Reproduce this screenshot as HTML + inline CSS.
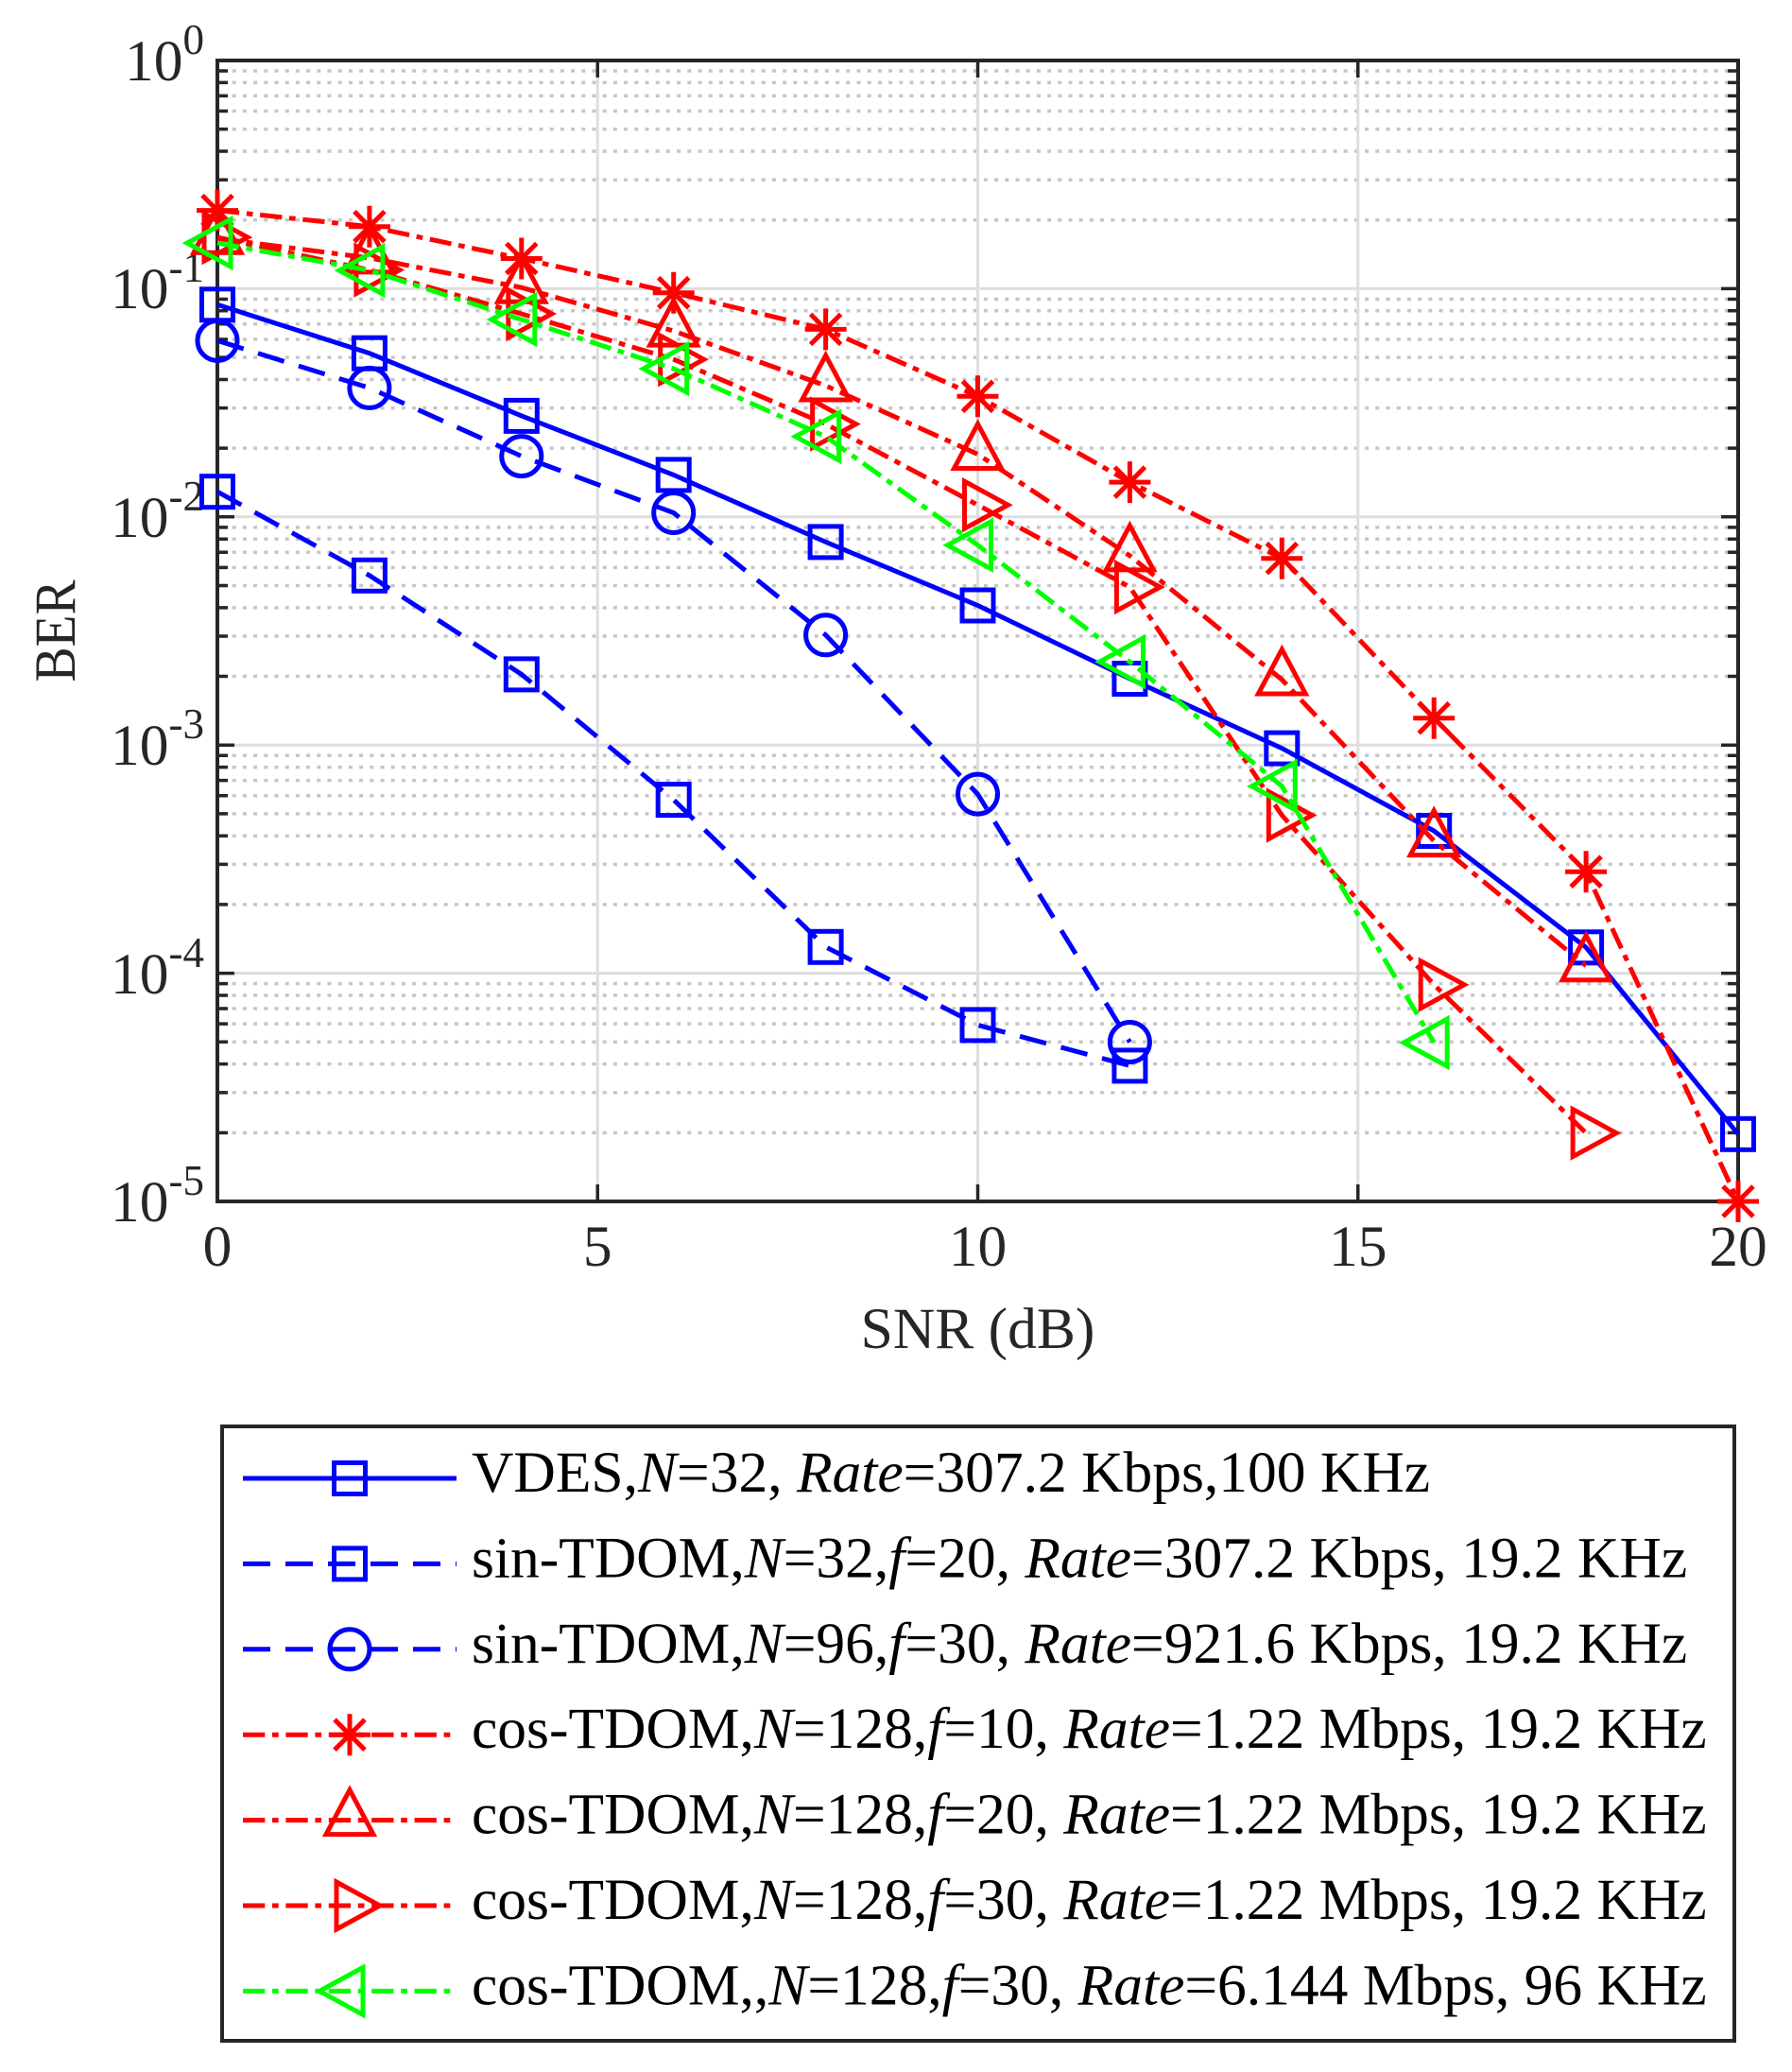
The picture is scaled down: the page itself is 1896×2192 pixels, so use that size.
<!DOCTYPE html>
<html><head><meta charset="utf-8"><style>
html,body{margin:0;padding:0;background:#fff;}
svg{display:block;}
text{font-family:"Liberation Serif",serif;}
</style></head><body>
<svg xmlns="http://www.w3.org/2000/svg" width="1896" height="2192" viewBox="0 0 1896 2192">
<rect x="0" y="0" width="1896" height="2192" fill="#fff"/>
<!-- minor grid -->
<path fill="none" stroke="#c6c6c6" stroke-width="3.5" stroke-dasharray="4 7.2" stroke-dashoffset="6.7" d="
M230 232.73H1839M230 190.22H1839M230 160.06H1839M230 136.67H1839M230 117.55H1839M230 101.39H1839M230 87.39H1839M230 75.05H1839
M230 474.13H1839M230 431.62H1839M230 401.46H1839M230 378.07H1839M230 358.95H1839M230 342.79H1839M230 328.79H1839M230 316.45H1839
M230 715.53H1839M230 673.02H1839M230 642.86H1839M230 619.47H1839M230 600.35H1839M230 584.19H1839M230 570.19H1839M230 557.85H1839
M230 956.93H1839M230 914.42H1839M230 884.26H1839M230 860.87H1839M230 841.75H1839M230 825.59H1839M230 811.59H1839M230 799.25H1839
M230 1198.33H1839M230 1155.82H1839M230 1125.66H1839M230 1102.27H1839M230 1083.15H1839M230 1066.99H1839M230 1052.99H1839M230 1040.65H1839"/>
<!-- major grid -->
<path fill="none" stroke="#dedede" stroke-width="3" d="M230 305.4H1839M230 546.8H1839M230 788.2H1839M230 1029.6H1839M632.25 64V1271M1034.5 64V1271M1436.75 64V1271"/>
<!-- axes box -->
<rect x="230" y="64" width="1609" height="1207" fill="none" stroke="#262626" stroke-width="4"/>
<!-- major ticks -->
<path fill="none" stroke="#262626" stroke-width="3.5" d="
M230 305.4h18M230 546.8h18M230 788.2h18M230 1029.6h18
M1839 305.4h-18M1839 546.8h-18M1839 788.2h-18M1839 1029.6h-18
M632.25 1271v-18M1034.5 1271v-18M1436.75 1271v-18
M632.25 64v18M1034.5 64v18M1436.75 64v18"/>
<!-- minor ticks -->
<path fill="none" stroke="#262626" stroke-width="3.5" d="
M230 232.73h11M230 190.22h11M230 160.06h11M230 136.67h11M230 117.55h11M230 101.39h11M230 87.39h11M230 75.05h11
M230 474.13h11M230 431.62h11M230 401.46h11M230 378.07h11M230 358.95h11M230 342.79h11M230 328.79h11M230 316.45h11
M230 715.53h11M230 673.02h11M230 642.86h11M230 619.47h11M230 600.35h11M230 584.19h11M230 570.19h11M230 557.85h11
M230 956.93h11M230 914.42h11M230 884.26h11M230 860.87h11M230 841.75h11M230 825.59h11M230 811.59h11M230 799.25h11
M230 1198.33h11M230 1155.82h11M230 1125.66h11M230 1102.27h11M230 1083.15h11M230 1066.99h11M230 1052.99h11M230 1040.65h11
M1839 232.73h-11M1839 190.22h-11M1839 160.06h-11M1839 136.67h-11M1839 117.55h-11M1839 101.39h-11M1839 87.39h-11M1839 75.05h-11
M1839 474.13h-11M1839 431.62h-11M1839 401.46h-11M1839 378.07h-11M1839 358.95h-11M1839 342.79h-11M1839 328.79h-11M1839 316.45h-11
M1839 715.53h-11M1839 673.02h-11M1839 642.86h-11M1839 619.47h-11M1839 600.35h-11M1839 584.19h-11M1839 570.19h-11M1839 557.85h-11
M1839 956.93h-11M1839 914.42h-11M1839 884.26h-11M1839 860.87h-11M1839 841.75h-11M1839 825.59h-11M1839 811.59h-11M1839 799.25h-11
M1839 1198.33h-11M1839 1155.82h-11M1839 1125.66h-11M1839 1102.27h-11M1839 1083.15h-11M1839 1066.99h-11M1839 1052.99h-11M1839 1040.65h-11"/>

<!-- tick labels -->
<g fill="#262626" font-size="61.5" text-anchor="middle">
<text x="230" y="1339">0</text>
<text x="632.25" y="1339">5</text>
<text x="1034.5" y="1339">10</text>
<text x="1436.75" y="1339">15</text>
<text x="1839" y="1339">20</text>
</g>
<g fill="#262626" font-size="61.5" text-anchor="end">
<text x="216" y="85">10<tspan font-size="45" dy="-28">0</tspan></text>
<text x="216" y="326">10<tspan font-size="45" dy="-28">-1</tspan></text>
<text x="216" y="568">10<tspan font-size="45" dy="-28">-2</tspan></text>
<text x="216" y="809">10<tspan font-size="45" dy="-28">-3</tspan></text>
<text x="216" y="1051">10<tspan font-size="45" dy="-28">-4</tspan></text>
<text x="216" y="1292">10<tspan font-size="45" dy="-28">-5</tspan></text>
</g>
<text x="1034.5" y="1426" font-size="61.5" fill="#262626" text-anchor="middle">SNR (dB)</text>
<text transform="translate(79,667.5) rotate(-90)" x="0" y="0" font-size="61.5" fill="#262626" text-anchor="middle" textLength="108" lengthAdjust="spacingAndGlyphs">BER</text>

<!-- VDES -->
<polyline fill="none" stroke="#0000ff" stroke-width="5" points="230,322.3 390.9,373.7 551.8,439.9 712.7,502.4 873.6,573.4 1034.5,640.5 1195.4,718 1356.3,791.6 1517.2,879 1678.1,1002.3 1839,1199.8"/>
<g fill="none" stroke="#0000ff" stroke-width="5">
<rect x="213.5" y="305.8" width="33" height="33"/><rect x="374.4" y="357.2" width="33" height="33"/><rect x="535.3" y="423.4" width="33" height="33"/><rect x="696.2" y="485.9" width="33" height="33"/><rect x="857.1" y="556.9" width="33" height="33"/><rect x="1018" y="624" width="33" height="33"/><rect x="1178.9" y="701.5" width="33" height="33"/><rect x="1339.8" y="775.1" width="33" height="33"/><rect x="1500.7" y="862.5" width="33" height="33"/><rect x="1661.6" y="985.8" width="33" height="33"/><rect x="1822.5" y="1183.3" width="33" height="33"/>
</g>
<!-- sin32 -->
<polyline fill="none" stroke="#0000ff" stroke-width="5" stroke-dasharray="29 16" points="230,520.2 390.9,608.8 551.8,713.4 712.7,846.1 873.6,1001.8 1034.5,1084.4 1195.4,1127.4"/>
<g fill="none" stroke="#0000ff" stroke-width="5">
<rect x="213.5" y="503.7" width="33" height="33"/><rect x="374.4" y="592.3" width="33" height="33"/><rect x="535.3" y="696.9" width="33" height="33"/><rect x="696.2" y="829.6" width="33" height="33"/><rect x="857.1" y="985.3" width="33" height="33"/><rect x="1018" y="1067.9" width="33" height="33"/><rect x="1178.9" y="1110.9" width="33" height="33"/>
</g>
<!-- sin96 -->
<polyline fill="none" stroke="#0000ff" stroke-width="5" stroke-dasharray="29 16" points="230,360.4 390.9,410.4 551.8,482.6 712.7,542.5 873.6,671.8 1034.5,840.1 1195.4,1102.5"/>
<g fill="none" stroke="#0000ff" stroke-width="5">
<circle cx="230" cy="360.4" r="21"/><circle cx="390.9" cy="410.4" r="21"/><circle cx="551.8" cy="482.6" r="21"/><circle cx="712.7" cy="542.5" r="21"/><circle cx="873.6" cy="671.8" r="21"/><circle cx="1034.5" cy="840.1" r="21"/><circle cx="1195.4" cy="1102.5" r="21"/>
</g>
<!-- cos f=10 star -->
<polyline fill="none" stroke="#ff0000" stroke-width="5" stroke-dasharray="23.3 7.7 6.7 7.7" points="230,222.6 390.9,239.7 551.8,273.5 712.7,309.7 873.6,348.4 1034.5,419.3 1195.4,510.1 1356.3,590.7 1517.2,759.7 1678.1,922.2 1839,1271"/>
<path fill="none" stroke="#ff0000" stroke-width="5" d="M208,222.6h44M230,200.6v44M214,206.6l32,32M214,238.6l32,-32
M368.9,239.7h44M390.9,217.7v44M374.9,223.7l32,32M374.9,255.7l32,-32
M529.8,273.5h44M551.8,251.5v44M535.8,257.5l32,32M535.8,289.5l32,-32
M690.7,309.7h44M712.7,287.7v44M696.7,293.7l32,32M696.7,325.7l32,-32
M851.6,348.4h44M873.6,326.4v44M857.6,332.4l32,32M857.6,364.4l32,-32
M1012.5,419.3h44M1034.5,397.3v44M1018.5,403.3l32,32M1018.5,435.3l32,-32
M1173.4,510.1h44M1195.4,488.1v44M1179.4,494.1l32,32M1179.4,526.1l32,-32
M1334.3,590.7h44M1356.3,568.7v44M1340.3,574.7l32,32M1340.3,606.7l32,-32
M1495.2,759.7h44M1517.2,737.7v44M1501.2,743.7l32,32M1501.2,775.7l32,-32
M1656.1,922.2h44M1678.1,900.2v44M1662.1,906.2l32,32M1662.1,938.2l32,-32
M1817,1271h44M1839,1249v44M1823,1255l32,32M1823,1287l32,-32"/>
<!-- cos f=20 tri up -->
<polyline fill="none" stroke="#ff0000" stroke-width="5" stroke-dasharray="23.3 7.7 6.7 7.7" points="230,252.3 390.9,272.9 551.8,304.2 712.7,350.1 873.6,408 1034.5,480.5 1195.4,587.9 1356.3,719 1517.2,889.6 1678.1,1021.7"/>
<g fill="none" stroke="#ff0000" stroke-width="5">
<polygon points="230,220.3 205,267.3 255,267.3"/><polygon points="390.9,240.9 365.9,287.9 415.9,287.9"/><polygon points="551.8,272.2 526.8,319.2 576.8,319.2"/><polygon points="712.7,318.1 687.7,365.1 737.7,365.1"/><polygon points="873.6,376 848.6,423 898.6,423"/><polygon points="1034.5,448.5 1009.5,495.5 1059.5,495.5"/><polygon points="1195.4,555.9 1170.4,602.9 1220.4,602.9"/><polygon points="1356.3,687 1331.3,734 1381.3,734"/><polygon points="1517.2,857.6 1492.2,904.6 1542.2,904.6"/><polygon points="1678.1,989.7 1653.1,1036.7 1703.1,1036.7"/>
</g>
<!-- cos f=30 tri right -->
<polyline fill="none" stroke="#ff0000" stroke-width="5" stroke-dasharray="23.3 7.7 6.7 7.7" points="230,251.1 390.9,285.6 551.8,332 712.7,380.2 873.6,448.6 1034.5,534.2 1195.4,621.1 1356.3,862.5 1517.2,1041.7 1678.1,1198.6"/>
<g fill="none" stroke="#ff0000" stroke-width="5">
<polygon points="216,226.1 262,251.1 216,276.1"/><polygon points="376.9,260.6 422.9,285.6 376.9,310.6"/><polygon points="537.8,307 583.8,332 537.8,357"/><polygon points="698.7,355.2 744.7,380.2 698.7,405.2"/><polygon points="859.6,423.6 905.6,448.6 859.6,473.6"/><polygon points="1020.5,509.2 1066.5,534.2 1020.5,559.2"/><polygon points="1181.4,596.1 1227.4,621.1 1181.4,646.1"/><polygon points="1342.3,837.5 1388.3,862.5 1342.3,887.5"/><polygon points="1503.2,1016.7 1549.2,1041.7 1503.2,1066.7"/><polygon points="1664.1,1173.6 1710.1,1198.6 1664.1,1223.6"/>
</g>
<!-- green tri left -->
<polyline fill="none" stroke="#00ff00" stroke-width="5" stroke-dasharray="23.3 7.7 6.7 7.7" points="230,257.1 390.9,286.1 551.8,338 712.7,390.1 873.6,461.8 1034.5,576.7 1195.4,700.1 1356.3,831.7 1517.2,1103"/>
<g fill="none" stroke="#00ff00" stroke-width="5">
<polygon points="244,232.1 198,257.1 244,282.1"/><polygon points="404.9,261.1 358.9,286.1 404.9,311.1"/><polygon points="565.8,313 519.8,338 565.8,363"/><polygon points="726.7,365.1 680.7,390.1 726.7,415.1"/><polygon points="887.6,436.8 841.6,461.8 887.6,486.8"/><polygon points="1048.5,551.7 1002.5,576.7 1048.5,601.7"/><polygon points="1209.4,675.1 1163.4,700.1 1209.4,725.1"/><polygon points="1370.3,806.7 1324.3,831.7 1370.3,856.7"/><polygon points="1531.2,1078 1485.2,1103 1531.2,1128"/>
</g>

<!-- legend -->
<rect x="235" y="1509" width="1600" height="650" fill="#fff" stroke="#262626" stroke-width="4"/>
<g fill="none" stroke-width="5">
<path stroke="#0000ff" d="M257 1564H483"/>
<rect stroke="#0000ff" x="353.5" y="1547.5" width="33" height="33"/>
<path stroke="#0000ff" stroke-dasharray="29 16" d="M257 1654.4H483"/>
<rect stroke="#0000ff" x="353.5" y="1637.9" width="33" height="33"/>
<path stroke="#0000ff" stroke-dasharray="29 16" d="M257 1744.8H483"/>
<circle stroke="#0000ff" cx="370" cy="1744.8" r="21"/>
<path stroke="#ff0000" stroke-dasharray="23.3 7.7 6.7 7.7" d="M257 1835.2H483"/>
<path stroke="#ff0000" d="M348,1835.2h44M370,1813.2v44M354,1819.2l32,32M354,1851.2l32,-32"/>
<path stroke="#ff0000" stroke-dasharray="23.3 7.7 6.7 7.7" d="M257 1925.6H483"/>
<polygon stroke="#ff0000" points="370,1893.6 345,1940.6 395,1940.6"/>
<path stroke="#ff0000" stroke-dasharray="23.3 7.7 6.7 7.7" d="M257 2016H483"/>
<polygon stroke="#ff0000" points="356,1991 402,2016 356,2041"/>
<path stroke="#00ff00" stroke-dasharray="23.3 7.7 6.7 7.7" d="M257 2106.4H483"/>
<polygon stroke="#00ff00" points="384,2081.4 338,2106.4 384,2131.4"/>
</g>
<g fill="#000" font-size="61.5">
<text x="499" y="1578">VDES,<tspan font-style="italic">N</tspan>=32, <tspan font-style="italic">Rate</tspan>=307.2 Kbps,100 KHz</text>
<text x="499" y="1668.4">sin-TDOM,<tspan font-style="italic">N</tspan>=32,<tspan font-style="italic">f</tspan>=20, <tspan font-style="italic">Rate</tspan>=307.2 Kbps, 19.2 KHz</text>
<text x="499" y="1758.8">sin-TDOM,<tspan font-style="italic">N</tspan>=96,<tspan font-style="italic">f</tspan>=30, <tspan font-style="italic">Rate</tspan>=921.6 Kbps, 19.2 KHz</text>
<text x="499" y="1849.2">cos-TDOM,<tspan font-style="italic">N</tspan>=128,<tspan font-style="italic">f</tspan>=10, <tspan font-style="italic">Rate</tspan>=1.22 Mbps, 19.2 KHz</text>
<text x="499" y="1939.6">cos-TDOM,<tspan font-style="italic">N</tspan>=128,<tspan font-style="italic">f</tspan>=20, <tspan font-style="italic">Rate</tspan>=1.22 Mbps, 19.2 KHz</text>
<text x="499" y="2030">cos-TDOM,<tspan font-style="italic">N</tspan>=128,<tspan font-style="italic">f</tspan>=30, <tspan font-style="italic">Rate</tspan>=1.22 Mbps, 19.2 KHz</text>
<text x="499" y="2120.4">cos-TDOM,,<tspan font-style="italic">N</tspan>=128,<tspan font-style="italic">f</tspan>=30, <tspan font-style="italic">Rate</tspan>=6.144 Mbps, 96 KHz</text>
</g>
</svg>
</body></html>
